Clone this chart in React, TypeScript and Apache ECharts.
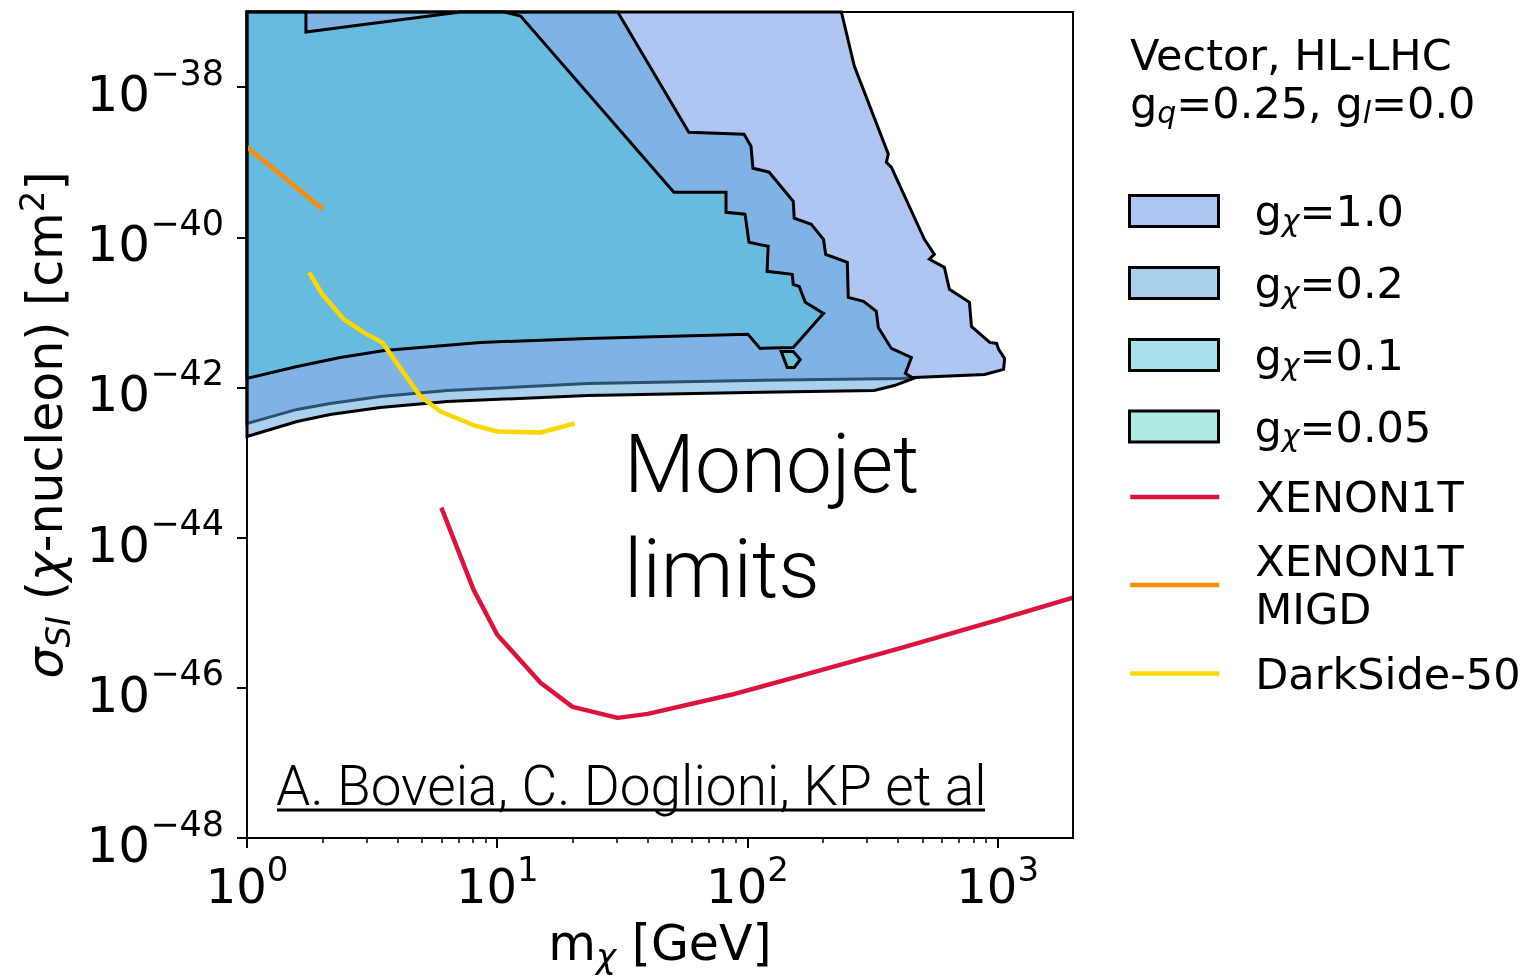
import React, { useEffect, useRef } from 'react';
import * as echarts from 'echarts';

const FONT = "'DejaVu Sans', sans-serif";
const SANS = "Roboto, 'Liberation Sans', Arial, sans-serif";

// ---- axis ticks (exponents / masses) ----
const X_MAJOR_EXP = [0, 1, 2, 3];
const X_MINOR_MASS = [2, 3, 4, 5, 6, 7, 8, 9, 20, 30, 40, 50, 60, 70, 80, 90, 200, 300, 400, 500, 600, 700, 800, 900];
const Y_MAJOR_EXP = [-48, -46, -44, -42, -40, -38];
const X_MAX_MASS = 2000;

// ---- monojet exclusion contours (mass in GeV, sigma in cm^2) ----
const G10_MASS = [1, 237.4, 267.3, 365.6, 358.9, 375.8, 509.5, 558.5, 533.5, 612.4, 641.4, 771, 785.7, 928.9, 990.8, 1009, 1066, 1056, 887, 464.6, 412.1, 103.3, 23.0, 6.32, 3.41, 2.15, 1.585, 1];
const G10_SIGMA = [1e-37, 1e-37, 1.9e-38, 1.28e-39, 1.0e-39, 8.57e-40, 9.4e-41, 5.93e-41, 5.1e-41, 3.98e-41, 2.03e-41, 1.36e-41, 6.5e-42, 3.98e-42, 3.86e-42, 3.21e-42, 2.44e-42, 1.74e-42, 1.49e-42, 1.36e-42, 1.32e-42, 1.24e-42, 1.13e-42, 9.1e-43, 7.6e-43, 6.12e-43, 5.1e-43, 3.31e-43];

const G02_MASS = [1, 30.3, 58.3, 96.9, 103.3, 105.2, 122.1, 152.4, 153.8, 179.9, 201.4, 205.3, 250.6, 252.9, 291, 327.3, 333.4, 375.8, 452, 427.6, 460.4, 386.5, 321, 100.5, 23.0, 6.32, 3.41, 2.15, 1.585, 1];
const G02_SIGMA = [1e-37, 1e-37, 2.51e-39, 2.36e-39, 1.63e-39, 8.32e-40, 7.36e-40, 3.02e-40, 1.79e-40, 1.49e-40, 9.4e-41, 5.93e-41, 4.64e-41, 1.585e-41, 1.4e-41, 1.03e-41, 6.3e-42, 3.31e-42, 2.51e-42, 1.54e-42, 1.32e-42, 1.06e-42, 9.1e-43, 8.57e-43, 7.8e-43, 6.5e-43, 5.4e-43, 4.36e-43, 3.52e-43, 2.22e-43];

const G01_MASS = [1, 1.72, 1.72, 7.13, 10.7, 12.4, 50.8, 82.1, 82.1, 97.8, 101.4, 121.0, 119.8, 151, 152.4, 161, 170.2, 201.4, 152.4, 112.3, 100.5, 23.0, 8.57, 3.54, 2.36, 1.585, 1];
const G01_SIGMA = [1e-37, 1e-37, 5.4e-38, 1e-37, 1e-37, 8.85e-38, 3.98e-40, 3.98e-40, 2.15e-40, 2.03e-40, 8.57e-41, 7.59e-41, 3.52e-41, 3.21e-41, 2.36e-41, 2.22e-41, 1.36e-41, 9.7e-42, 3.41e-42, 3.31e-42, 5.1e-42, 4.5e-42, 3.98e-42, 3.11e-42, 2.51e-42, 1.9e-42, 1.32e-42];

const G005_MASS = [136.4, 152.4, 162.5, 153.8, 144.2];
const G005_SIGMA = [3.02e-42, 3.02e-42, 2.36e-42, 1.85e-42, 1.85e-42];

// ---- direct detection limits ----
const XENON_MASS = [5.98, 8.04, 10.0, 14.9, 20.0, 30.3, 40.0, 86.0, 164, 412, 1036, 2000];
const XENON_SIGMA = [2.51e-44, 2.03e-45, 5.1e-46, 1.17e-46, 5.58e-47, 3.98e-47, 4.5e-47, 8.07e-47, 1.45e-46, 3.41e-46, 8.3e-46, 1.585e-45];

const MIGD_MASS = [1, 2.01];
const MIGD_SIGMA = [1.585e-39, 2.36e-40];

const DS50_MASS = [1.77, 2.0, 2.25, 2.44, 2.97, 3.47, 4.93, 5.93, 8.11, 10.0, 14.9, 20.4];
const DS50_SIGMA = [3.41e-41, 1.74e-41, 1.1e-41, 8.07e-42, 5.25e-42, 3.98e-42, 7.6e-43, 4.79e-43, 3.11e-43, 2.59e-43, 2.51e-43, 3.31e-43];

const REGIONS = [
  { name: 'gχ=1.0', mass: G10_MASS, sigma: G10_SIGMA, fill: 'rgba(93,141,227,0.5)' },
  { name: 'gχ=0.2', mass: G02_MASS, sigma: G02_SIGMA, fill: 'rgba(83,161,217,0.5)' },
  { name: 'gχ=0.1', mass: G01_MASS, sigma: G01_SIGMA, fill: 'rgba(79,195,217,0.5)' },
  { name: 'gχ=0.05', mass: G005_MASS, sigma: G005_SIGMA, fill: 'rgba(93,213,199,0.5)' },
];

const LIMITS = [
  { name: 'XENON1T', mass: XENON_MASS, sigma: XENON_SIGMA, color: '#dc143c' },
  { name: 'XENON1T MIGD', mass: MIGD_MASS, sigma: MIGD_SIGMA, color: '#ff8c00' },
  { name: 'DarkSide-50', mass: DS50_MASS, sigma: DS50_SIGMA, color: '#ffd700' },
];

const LEGEND_TOPS = [187, 259, 331, 402.5, 473, 537, 649.5];

function toPts(mass: number[], sigma: number[]) {
  return mass.map((m, i) => [Math.log10(m), Math.log10(sigma[i])]);
}

export default function App() {
  const ref = useRef<HTMLDivElement>(null);
  useEffect(() => {
    const chart = echarts.init(ref.current!, null, { renderer: 'svg' });

    const regionSeries = REGIONS.map((r) => {
      const pts = toPts(r.mass, r.sigma);
      return {
        type: 'custom',
        name: r.name,
        data: pts,
        silent: true,
        z: 2,
        itemStyle: { color: r.fill, borderColor: '#000', borderWidth: 3 },
        renderItem: (params: any, api: any) => {
          if (params.dataIndex !== 0) return null;
          const points = pts.map((p) => api.coord(p));
          return {
            type: 'polygon',
            shape: { points },
            style: { fill: r.fill, stroke: '#000', lineWidth: 3 },
          };
        },
      };
    });

    const lineSeries = LIMITS.map((l) => ({
      type: 'line',
      name: l.name,
      data: toPts(l.mass, l.sigma),
      symbol: 'none',
      silent: true,
      z: 3,
      color: l.color,
      lineStyle: { color: l.color, width: 4.5 },
    }));

    const legendRich = {
      f: { fontFamily: FONT, fontSize: 43, lineHeight: 48, padding: [0, 0, 0, 31], color: '#000' },
      n: { fontFamily: FONT, fontSize: 43, lineHeight: 48, color: '#000' },
      s: { fontFamily: FONT, fontSize: 30, fontStyle: 'italic', lineHeight: 20, verticalAlign: 'bottom', color: '#000' },
    };
    const legendFormatter = (name: string) => {
      if (name.startsWith('gχ')) return `{f|g}{s|χ}{n|${name.slice(2)}}`;
      if (name === 'XENON1T MIGD') return '{f|XENON1T}\n{f|MIGD}';
      return `{f|${name}}`;
    };
    const legendItems: any[] = [
      ...REGIONS.map((r) => ({ name: r.name, icon: 'rect', itemStyle: { color: r.fill, borderColor: '#000', borderWidth: 3 } })),
      ...LIMITS.map((l) => ({
        name: l.name,
        itemStyle: { color: 'transparent', borderWidth: 0, opacity: 0 },
        lineStyle: { color: l.color, width: 4.5 },
      })),
    ];
    const legends = legendItems.map((item, i) => ({
      data: [item],
      left: 1128,
      top: LEGEND_TOPS[i],
      orient: 'vertical',
      itemWidth: 89,
      itemHeight: 31,
      itemGap: 0,
      padding: 0,
      selectedMode: false,
      formatter: legendFormatter,
      textStyle: { fontFamily: FONT, fontSize: 43, lineHeight: 48, color: '#000', rich: legendRich },
    }));

    const option: any = {
      animation: false,
      title: {
        text: '{t|Vector, HL-LHC}\n{t|g}{q|q}{t|=0.25, g}{q|l}{t|=0.0}',
        left: 1130,
        top: 31,
        padding: 0,
        textStyle: {
          fontFamily: FONT,
          fontSize: 43,
          fontWeight: 'normal',
          color: '#000',
          lineHeight: 48,
          rich: {
            t: { fontFamily: FONT, fontSize: 43, lineHeight: 48, color: '#000' },
            q: { fontFamily: FONT, fontSize: 30, fontStyle: 'italic', lineHeight: 20, verticalAlign: 'bottom', color: '#000' },
          },
        },
      },
      legend: legends,
      grid: {
        left: 247,
        top: 12,
        width: 826,
        height: 826,
        show: true,
        borderColor: '#000',
        borderWidth: 2,
        backgroundColor: 'transparent',
        z: 5,
      },
      xAxis: [
        {
          type: 'value',
          min: 0,
          max: Math.log10(X_MAX_MASS),
          interval: 1,
          position: 'bottom',
          z: 6,
          axisLine: { show: true, lineStyle: { color: '#000', width: 2 } },
          axisTick: { show: true, length: 10, lineStyle: { color: '#000', width: 2 }, customValues: X_MAJOR_EXP },
          axisLabel: {
            customValues: X_MAJOR_EXP,
            margin: 14,
            formatter: (v: number) => `{b|10}{s|${Math.round(v)}}`,
            rich: {
              b: { fontFamily: FONT, fontSize: 48, lineHeight: 58, verticalAlign: 'bottom', color: '#000' },
              s: { fontFamily: FONT, fontSize: 34, lineHeight: 34, verticalAlign: 'top', color: '#000' },
            },
          },
          splitLine: { show: false },
          name: '{n|m}{s|χ}{n| [GeV]}',
          nameLocation: 'middle',
          nameGap: 75,
          nameTextStyle: {
            rich: {
              n: { fontFamily: FONT, fontSize: 49, lineHeight: 60, color: '#000' },
              s: { fontFamily: FONT, fontSize: 34, fontStyle: 'italic', lineHeight: 26, verticalAlign: 'bottom', color: '#000' },
            },
          },
        },
        {
          type: 'value',
          min: 0,
          max: Math.log10(X_MAX_MASS),
          position: 'bottom',
          z: 6,
          axisLine: { show: false },
          axisTick: { show: true, length: 5, lineStyle: { color: '#000', width: 1.5 }, customValues: X_MINOR_MASS.map((m) => Math.log10(m)) },
          axisLabel: { show: false },
          splitLine: { show: false },
        },
      ],
      yAxis: {
        type: 'value',
        min: -48,
        max: -37,
        interval: 2,
        z: 6,
        axisLine: { show: true, lineStyle: { color: '#000', width: 2 } },
        axisTick: { show: true, length: 10, lineStyle: { color: '#000', width: 2 }, customValues: Y_MAJOR_EXP },
        axisLabel: {
          customValues: Y_MAJOR_EXP,
          margin: 23,
          formatter: (v: number) => `{b|10}{s|−${Math.abs(Math.round(v))}}`,
          rich: {
            b: { fontFamily: FONT, fontSize: 50, lineHeight: 64, verticalAlign: 'bottom', color: '#000' },
            s: { fontFamily: FONT, fontSize: 35, lineHeight: 35, verticalAlign: 'top', color: '#000' },
          },
        },
        splitLine: { show: false },
        name: '{i|σ}{s|SI}{n| (}{i|χ}{n|-nucleon) [cm}{p|2}{n|]}',
        nameLocation: 'middle',
        nameRotate: 90,
        nameGap: 172,
        nameTextStyle: {
          rich: {
            n: { fontFamily: FONT, fontSize: 49, lineHeight: 60, color: '#000' },
            i: { fontFamily: FONT, fontSize: 49, fontStyle: 'italic', lineHeight: 60, color: '#000' },
            s: { fontFamily: FONT, fontSize: 34, fontStyle: 'italic', lineHeight: 26, verticalAlign: 'bottom', color: '#000' },
            p: { fontFamily: FONT, fontSize: 34, lineHeight: 30, verticalAlign: 'top', color: '#000' },
          },
        },
      },
      series: [...regionSeries, ...lineSeries],
      graphic: [
        {
          type: 'text',
          x: 624,
          y: 411,
          silent: true,
          style: {
            text: 'Monojet\nlimits',
            fontFamily: SANS,
            fontWeight: 300,
            fontSize: 82,
            lineHeight: 105,
            fill: '#000',
            verticalAlign: 'top',
            align: 'left',
          },
        },
        {
          type: 'text',
          x: 276,
          y: 786,
          silent: true,
          style: {
            text: 'A. Boveia, C. Doglioni, KP et al',
            fontFamily: SANS,
            fontWeight: 300,
            fontSize: 55,
            fill: '#000',
            verticalAlign: 'middle',
            align: 'left',
          },
        },
        {
          type: 'line',
          silent: true,
          shape: { x1: 277, y1: 810, x2: 985, y2: 810 },
          style: { stroke: '#000', lineWidth: 3 },
        },
      ],
    };

    chart.setOption(option);
    return () => chart.dispose();
  }, []);

  return <div ref={ref} style={{ position: 'fixed', left: 0, top: 0, width: 1525, height: 978 }} />;
}
